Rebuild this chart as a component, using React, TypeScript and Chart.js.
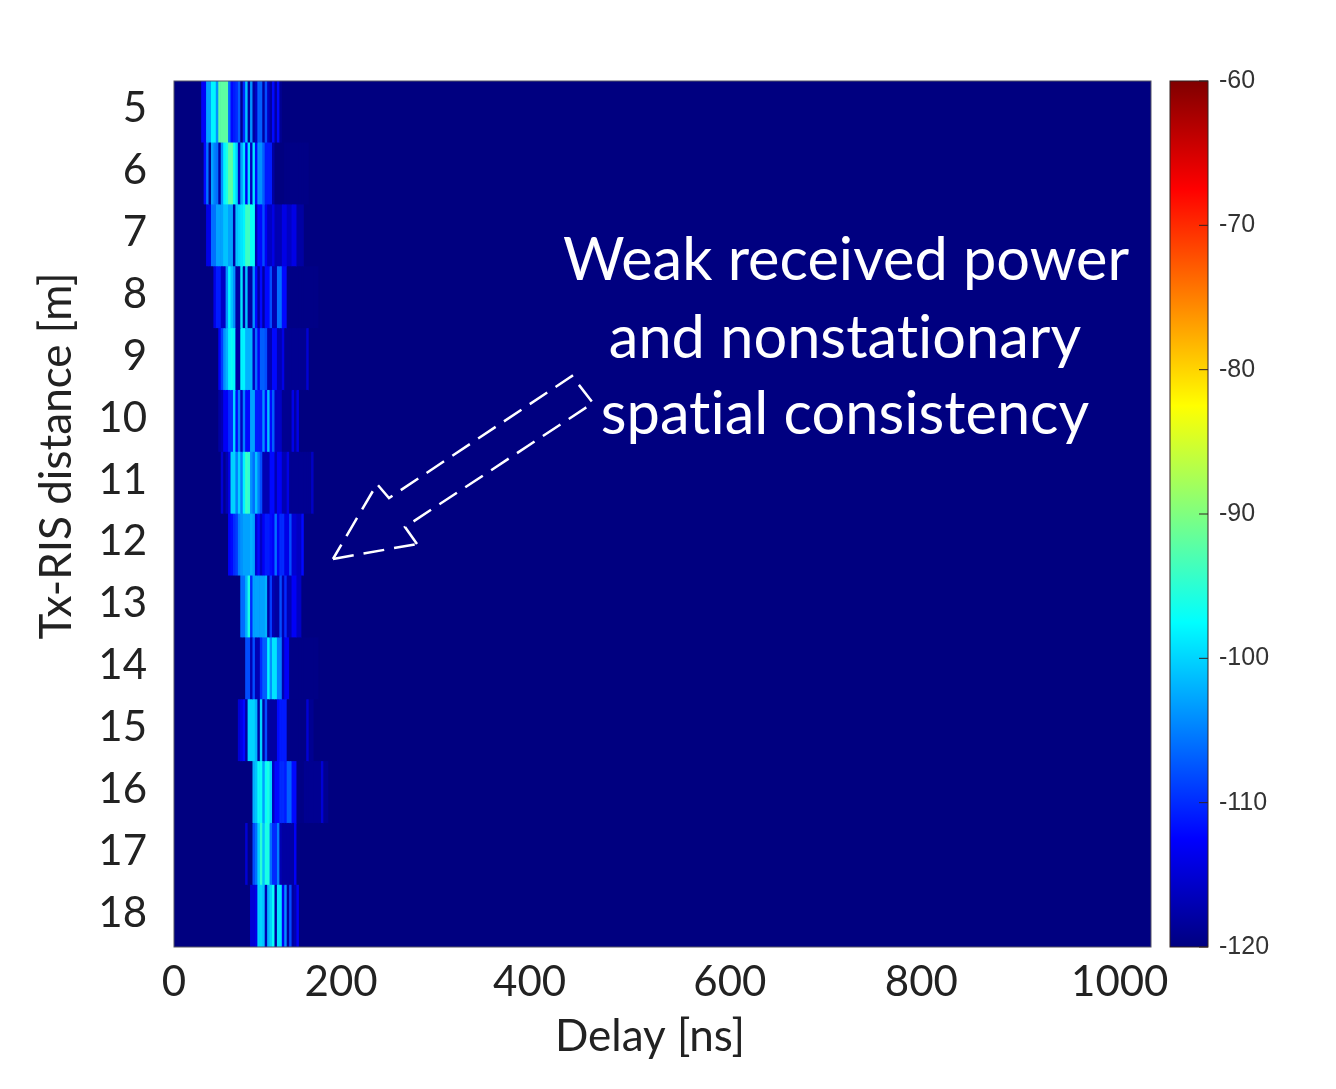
import { useEffect, useRef } from 'react';
import Chart from 'chart.js/auto';

const distances = ['5', '6', '7', '8', '9', '10', '11', '12', '13', '14', '15', '16', '17', '18'];

// delay bins are 2.5 ns wide, each row starts at its own first non-floor bin
const binWidth = 2.5;
const binCount = 64;
const floorDb = -120;
const firstBin = [11, 12, 13, 16, 18, 18, 19, 22, 27, 29, 26, 32, 29, 31];

const power5 = [-113, -113, -103, -103, -98, -98, -104, -92, -92, -92, -92, -106, -112, -111, -110, -107, -119, -110, -101, -118, -104, -118, -116, -107, -107, -118, -108, -116, -118, -112, -118, -112, -119];
const power6 = [-112, -106, -119, -103, -105, -106, -118, -104, -98, -96, -92, -92, -97, -100, -116, -103, -99, -113, -99, -116, -99, -112, -104, -104, -107, -111, -111, -111, -118, -120, -120, -120, -120, -119.6, -119.6, -119.6, -119.6, -119.6, -119.6, -119.6, -119.6, -119.6, -119.6];
const power7 = [-114, -114, -106, -106, -103, -103, -103, -101, -101, -103, -103, -118, -101, -100, -99, -98, -94, -94, -97, -97, -117, -112, -112, -108, -113, -116, -116, -114, -117, -117, -117, -114, -114, -116, -116, -114, -114, -118, -118, -118];
const power8 = [-114, -111, -111, -116, -116, -104, -98, -101, -104, -118, -118, -99, -118, -101, -118, -118, -104, -112, -118, -112, -118, -112, -112, -108, -117, -117, -106, -106, -112, -112, -119.6, -119.6, -119.6, -119.6, -119.6, -119.6, -119.6, -119.6, -119.6, -119.6, -119.6, -119.6, -119.6];
const power9 = [-113, -109, -104, -102, -98, -97, -98, -118, -118, -98, -98, -102, -102, -102, -116, -106, -113, -107, -107, -108, -117, -117, -112, -112, -117, -117, -114, -119, -119, -119, -119, -119, -119, -119, -119, -119, -115];
const power10 = [-118, -117, -113, -113, -110, -110, -100, -112, -105, -116, -105, -112, -112, -103, -103, -111, -111, -111, -104, -112, -101, -112, -107, -116, -116, -116, -119, -119, -119, -119, -114, -118, -114];
const power11 = [-115, -119, -117, -114, -100, -100, -105, -100, -105, -98, -94, -95, -104, -106, -101, -105, -108, -117, -117, -117, -112, -112, -117, -113, -113, -117, -117, -114, -119, -119, -119, -119, -119, -119, -119, -119, -119, -116];
const power12 = [-113, -112, -110, -109, -105, -104, -103, -103, -103, -102, -103, -115, -112, -116, -113, -111, -111, -112, -113, -106, -113, -110, -110, -114, -114, -108, -115, -115, -116, -116, -112];
const power13 = [-106, -106, -102, -96, -110, -103, -103, -103, -103, -103, -102, -118, -109, -117, -118, -118, -108, -117, -110, -117, -117, -113, -113, -116, -116];
const power14 = [-108, -108, -117, -108, -117, -117, -110, -107, -107, -98, -104, -99, -99, -105, -105, -117, -113, -113, -119.6, -119.6, -119.6, -119.6, -119.6, -119.6, -119.6, -119.6, -119.6, -119.6, -119.6, -119.6];
const power15 = [-115, -114, -112, -118, -100, -100, -100, -102, -118, -100, -118, -108, -118, -118, -118, -118, -112, -111, -111, -111, -119.6, -119.6, -119.6, -119.6, -119.6, -119.6, -119.6, -119.6, -115, -119, -119];
const power16 = [-102, -101, -97, -97, -103, -97, -96, -100, -116, -112, -112, -110, -110, -111, -107, -107, -112, -112, -119.6, -119.6, -119.6, -119, -119, -119, -119, -119, -119, -119, -115, -119, -119];
const power17 = [-115, -120, -120, -108, -106, -100, -95, -101, -96, -96, -106, -110, -110, -105, -117, -118, -118, -118, -118, -118, -113];
const power18 = [-115, -115, -114, -100, -100, -101, -117, -102, -100, -97, -118, -99, -99, -113, -104, -118, -108, -118, -117, -113];

const powerRows = [power5, power6, power7, power8, power9, power10, power11, power12, power13, power14, power15, power16, power17, power18];

const xTickValues = [0, 171, 364, 569, 765, 968]; // labels sit where the figure has them, not on the true delay
const xTickLabels = ['0', '200', '400', '600', '800', '1000'];

const noteLines = [
  { text: 'Weak received power', x: 846, y: 261 },
  { text: 'and nonstationary', x: 845, y: 339 },
  { text: 'spatial consistency', x: 845, y: 415 }
];
const arrowHeadSide = [[333, 559], [417, 544]];
const arrowOutline = [[417, 544], [405, 527], [593, 403], [572, 376], [389, 498], [377, 484], [333, 559]];

const labelFont = 'Lato';

function jet(db: number) {
  const t = (db - floorDb) / 60;
  const c = (v: number) => Math.round(255 * Math.min(1, Math.max(0, 1.5 - Math.abs(4 * t - v))));
  return `rgb(${c(3)},${c(2)},${c(1)})`;
}

const jetStops: [number, string][] = [
  [0, '#000080'],
  [0.125, '#0000ff'],
  [0.375, '#00ffff'],
  [0.625, '#ffff00'],
  [0.875, '#ff0000'],
  [1, '#800000']
];

const heatmapOverlay = {
  id: 'heatmapOverlay',
  beforeDatasetsDraw(chart: any) {
    const { ctx, chartArea: a } = chart;
    ctx.save();
    ctx.fillStyle = jet(floorDb);
    ctx.fillRect(a.left, a.top, a.width, a.height);
    ctx.restore();
  },
  afterDraw(chart: any) {
    const { ctx, chartArea: a } = chart;
    ctx.save();
    ctx.strokeStyle = '#555566';
    ctx.lineWidth = 1;
    ctx.strokeRect(a.left, a.top, a.width, a.height);

    ctx.fillStyle = '#ffffff';
    ctx.font = `59.5px ${labelFont}`;
    ctx.textAlign = 'center';
    ctx.textBaseline = 'middle';
    ctx.letterSpacing = '0.01px'; // stops the "ti" ligature
    noteLines.forEach((l) => ctx.fillText(l.text, l.x, l.y));

    ctx.strokeStyle = '#ffffff';
    ctx.lineWidth = 2.5;
    ctx.setLineDash([21, 10]);
    [arrowHeadSide, arrowOutline].forEach((path) => {
      ctx.beginPath();
      path.forEach(([x, y], i) => (i ? ctx.lineTo(x, y) : ctx.moveTo(x, y)));
      ctx.stroke();
    });
    ctx.setLineDash([]);

    ctx.fillStyle = '#222222';
    ctx.font = `44px ${labelFont}`;
    ctx.fillText('Delay [ns]', 650, 1037);
    ctx.translate(57, 456);
    ctx.rotate(-Math.PI / 2);
    ctx.fillText('Tx-RIS distance [m]', 0, 0);
    ctx.restore();
  }
};

const colorbarFrame = {
  id: 'colorbarFrame',
  afterDraw(chart: any) {
    const { ctx, chartArea: a, scales } = chart;
    ctx.save();
    ctx.strokeStyle = '#332222';
    ctx.lineWidth = 1;
    ctx.strokeRect(a.left, a.top, a.width, a.height);
    scales.y.ticks.forEach((t: any) => {
      const y = scales.y.getPixelForValue(t.value);
      ctx.beginPath();
      ctx.moveTo(a.right - 9, y);
      ctx.lineTo(a.right, y);
      ctx.stroke();
    });
    ctx.restore();
  }
};

export default function App() {
  const heatRef = useRef<HTMLCanvasElement>(null);
  const barRef = useRef<HTMLCanvasElement>(null);

  useEffect(() => {
    if (!heatRef.current || !barRef.current) return;

    const datasets = [];
    for (let k = 0; k < binCount; k++) {
      datasets.push({
        label: `${k * binWidth} ns`,
        data: distances.map(() => binWidth),
        backgroundColor: powerRows.map((row, r) => jet(row[k - firstBin[r]] ?? floorDb)),
        borderWidth: 0,
        barPercentage: 1,
        categoryPercentage: 1
      });
    }

    const heat = new Chart(heatRef.current, {
      type: 'bar',
      data: { labels: distances, datasets },
      plugins: [heatmapOverlay],
      options: {
        indexAxis: 'y',
        animation: false,
        responsive: false,
        layout: { padding: { left: 0, top: 81, right: 185, bottom: 0 } },
        plugins: { legend: { display: false }, tooltip: { enabled: false } },
        scales: {
          x: {
            stacked: true,
            min: 0,
            max: 1000,
            grid: { display: false },
            border: { display: false },
            afterFit: (s: any) => { s.height = 142; },
            afterBuildTicks: (s: any) => { s.ticks = xTickValues.map((value) => ({ value })); },
            ticks: {
              autoSkip: false,
              maxRotation: 0,
              padding: 2,
              color: '#222222',
              font: { family: labelFont, size: 42 },
              callback: (_v: any, i: number) => xTickLabels[i]
            }
          },
          y: {
            stacked: true,
            grid: { display: false },
            border: { display: false },
            afterFit: (s: any) => { s.width = 174; },
            ticks: {
              autoSkip: false,
              padding: 19,
              labelOffset: -3,
              color: '#222222',
              font: { family: labelFont, size: 42 }
            }
          }
        }
      }
    });

    const bar = new Chart(barRef.current, {
      type: 'bar',
      data: {
        labels: ['power'],
        datasets: [
          {
            data: [[floorDb, -60]],
            borderWidth: 0,
            barPercentage: 1,
            categoryPercentage: 1,
            backgroundColor: (c: any) => {
              const a = c.chart.chartArea;
              if (!a) return '#000080';
              const g = c.chart.ctx.createLinearGradient(0, a.bottom, 0, a.top);
              jetStops.forEach(([p, col]) => g.addColorStop(p, col));
              return g;
            }
          }
        ]
      },
      plugins: [colorbarFrame],
      options: {
        animation: false,
        responsive: false,
        layout: { padding: { left: 1170, top: 81, right: 0, bottom: 142 } },
        plugins: { legend: { display: false }, tooltip: { enabled: false } },
        scales: {
          x: { display: false },
          y: {
            position: 'right',
            min: floorDb,
            max: -60,
            grid: { display: false },
            border: { display: false },
            afterFit: (s: any) => { s.width = 128; },
            ticks: {
              stepSize: 10,
              padding: 3,
              color: '#333333',
              font: { family: 'Liberation Sans', size: 25 },
              callback: (v: any) => String(v)
            }
          }
        }
      }
    });

    return () => {
      heat.destroy();
      bar.destroy();
    };
  }, []);

  return (
    <div style={{ position: 'absolute', left: 0, top: 0, width: 1336, height: 1089 }}>
      <canvas ref={heatRef} width={1336} height={1089} style={{ position: 'absolute', left: 0, top: 0 }} />
      <canvas ref={barRef} width={1336} height={1089} style={{ position: 'absolute', left: 0, top: 0 }} />
    </div>
  );
}
